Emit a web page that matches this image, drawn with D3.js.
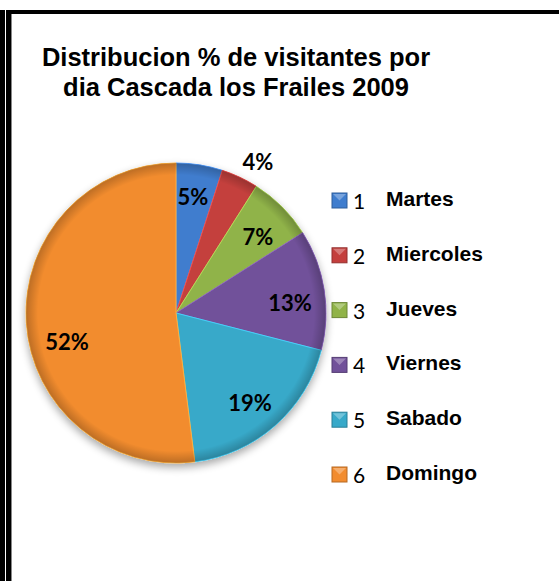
<!DOCTYPE html>
<html><head><meta charset="utf-8">
<script src="https://cdn.jsdelivr.net/npm/d3@7"></script>
<style>html,body{margin:0;padding:0;background:#fff;overflow:hidden}</style>
</head><body>
<svg id="c" width="559" height="581"></svg>
<script>
const titleLines = ["Distribucion % de visitantes por", "dia Cascada los Frailes 2009"];
const categories = ["1", "2", "3", "4", "5", "6"];
const dayNames = ["Martes", "Miercoles", "Jueves", "Viernes", "Sabado", "Domingo"];
const values = [5, 4, 7, 13, 19, 52];
const colors = ["#3F7DCE", "#C43F3D", "#90B348", "#71519A", "#37A9C9", "#F28C2F"];

const svg = d3.select("#c");
// frame
svg.append("rect").attr("x",0).attr("y",10).attr("width",5).attr("height",571).attr("fill","#000");
svg.append("rect").attr("x",6).attr("y",10).attr("width",5).attr("height",571).attr("fill","#000");
svg.append("rect").attr("x",11).attr("y",13).attr("width",1).attr("height",568).attr("fill","#888");
svg.append("rect").attr("x",6).attr("y",10).attr("width",553).attr("height",4).attr("fill","#000");

// title
svg.append("g").selectAll("text").data(titleLines).join("text")
  .attr("x", 236).attr("y", (d,i) => 66 + i*30)
  .attr("text-anchor","middle")
  .attr("font-family","Liberation Sans, Arial, sans-serif")
  .attr("font-weight","bold").attr("font-size", 25.5)
  .attr("fill","#000").text(d => d);

const cx = 176, cy = 313, R = 150;
const defs = svg.append("defs");
const sh = defs.append("filter").attr("id","sh").attr("x","-20%").attr("y","-20%").attr("width","140%").attr("height","140%");
sh.append("feGaussianBlur").attr("in","SourceAlpha").attr("stdDeviation",4);
sh.append("feOffset").attr("dy",4).attr("result","b");
sh.append("feComponentTransfer").append("feFuncA").attr("type","linear").attr("slope",0.35);
const mg = sh.append("feMerge"); mg.append("feMergeNode"); mg.append("feMergeNode").attr("in","SourceGraphic");

const rg = defs.append("radialGradient").attr("id","rim").attr("gradientUnits","userSpaceOnUse")
  .attr("cx",0).attr("cy",0).attr("r",R);
rg.append("stop").attr("offset","0%").attr("stop-color","#fff").attr("stop-opacity",0.0);
rg.append("stop").attr("offset","92%").attr("stop-color","#000").attr("stop-opacity",0.0);
rg.append("stop").attr("offset","100%").attr("stop-color","#000").attr("stop-opacity",0.22);

const pie = d3.pie().sort(null).value(d => d)(values);
const arc = d3.arc().innerRadius(0).outerRadius(R);
const g = svg.append("g").attr("transform",`translate(${cx},${cy})`);
const pg = g.append("g").attr("filter","url(#sh)");
pg.selectAll("path.s").data(pie).join("path").attr("class","s")
  .attr("d", arc).attr("fill",(d,i)=>colors[i])
  .attr("stroke",(d,i)=>d3.color(colors[i]).brighter(0.6)).attr("stroke-width",1);
g.selectAll("path.o").data(pie).join("path").attr("class","o")
  .attr("d", arc).attr("fill","url(#rim)");

// data labels
const labelPos = [[193,197],[258,162],[258,237],[290,303],[250,403],[67,342]];
svg.append("g").selectAll("text").data(pie).join("text")
  .attr("x",(d,i)=>labelPos[i][0]).attr("y",(d,i)=>labelPos[i][1]+8)
  .attr("text-anchor","middle")
  .attr("font-family","Lato, 'Open Sans', sans-serif").attr("font-weight","bold").attr("font-size",22)
  .attr("fill","#000").text(d => d.data + "%");

// legend
const ly = d3.scalePoint().domain(categories).range([200, 474]);
const lg = svg.append("g").selectAll("g").data(categories).join("g")
  .attr("transform", d => `translate(332,${ly(d)})`);
lg.append("rect").attr("x",0).attr("y",-7).attr("width",15).attr("height",15)
  .attr("fill",(d,i)=>colors[i]).attr("stroke",(d,i)=>d3.color(colors[i]).darker(0.8)).attr("stroke-width",1);
lg.append("path").attr("d","M1,-6 L7.5,0.5 L14,-6 Z").attr("fill","#fff").attr("opacity",0.3);
lg.append("text").attr("x",21).attr("y",9)
  .attr("font-family","Lato, 'Open Sans', sans-serif").attr("font-size",21).attr("fill","#000")
  .text(d => d);
lg.append("text").attr("x",54).attr("y",6)
  .attr("font-family","Liberation Sans, Arial, sans-serif").attr("font-weight","bold").attr("font-size",21)
  .attr("fill","#000").text((d,i) => dayNames[i]);
</script>
</body></html>
